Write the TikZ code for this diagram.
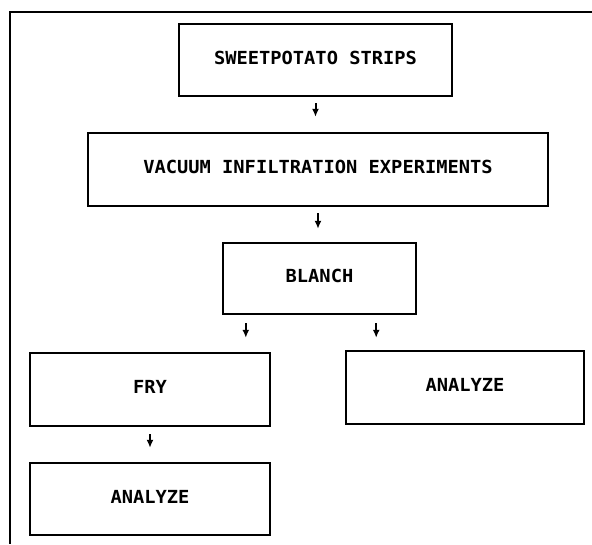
\documentclass[tikz,border=0pt]{standalone}
\usepackage{fontspec}
\newfontfamily\plotfont[FakeStretch=1.04]{DejaVu Sans Mono}
\usetikzlibrary{arrows.meta}
\tikzstyle{every path}=[line width=1.6pt]
\tikzstyle{stagebox}=[draw, line width=2.4pt, inner sep=0pt, minimum height=72pt, text depth=5pt,
    font=\plotfont\bfseries\fontsize{18}{18}\selectfont]
\tikzstyle{flow}=[-{Latex[length=8pt,width=7pt]}, line width=2pt]

\begin{document}
\begin{tikzpicture}[x=1pt, y=-1pt]
            \useasboundingbox (0, 0) rectangle (592, 544);
            \draw[line width=1.5pt] (592, 12) -- (10, 12) -- (10, 544);

            \node[stagebox, minimum width=273pt] (sweet) at (315.5, 60)
                {SWEETPOTATO STRIPS};
            \node[stagebox, minimum width=460pt, minimum height=73pt] (vacuum) at (318, 169.5)
                {VACUUM INFILTRATION EXPERIMENTS};
            \node[stagebox, minimum width=193pt, minimum height=71pt] (blanch) at (319.5, 278.5)
                {BLANCH};
            \node[stagebox, minimum width=240pt, minimum height=73pt] (fry) at (150, 389.5)
                {FRY};
            \node[stagebox, minimum width=238pt, minimum height=73pt] (analyzeR) at (465, 387.5)
                {ANALYZE};
            \node[stagebox, minimum width=240pt] (analyzeL) at (150, 499)
                {ANALYZE};

            \draw[flow, shorten <=6pt, shorten >=15pt] (sweet.south) -- (sweet.south |- vacuum.north);
            \draw[flow, shorten <=6pt, shorten >=13pt] (vacuum.south) -- (vacuum.south |- blanch.north);
            \draw[flow, shorten <=8pt, shorten >=14pt] ([xshift=24pt]blanch.south west)
                -- ([xshift=24pt]blanch.south west |- fry.north);
            \draw[flow, shorten <=8pt, shorten >=12pt] ([xshift=-41pt]blanch.south east)
                -- ([xshift=-41pt]blanch.south east |- analyzeR.north);
            \draw[flow, shorten <=7pt, shorten >=14pt] (fry.south) -- (fry.south |- analyzeL.north);
        \end{tikzpicture}
\end{document}
